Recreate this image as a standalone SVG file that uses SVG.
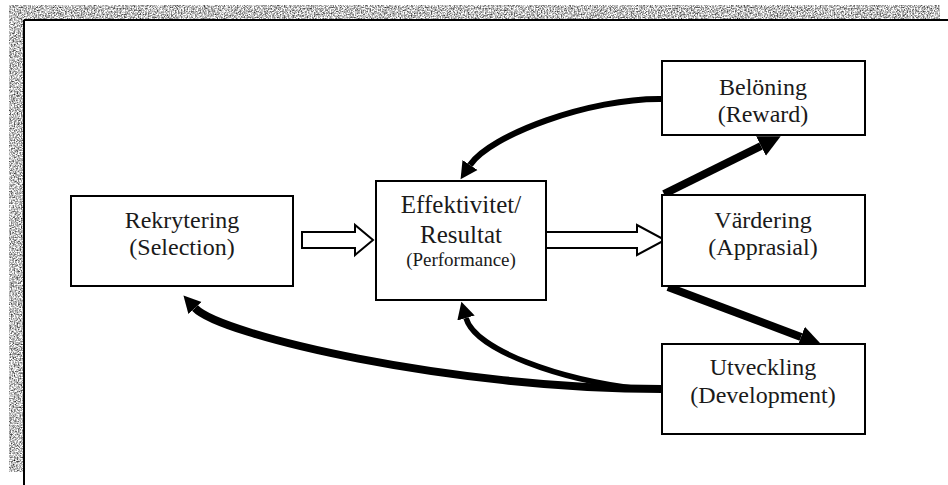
<svg xmlns="http://www.w3.org/2000/svg" width="948" height="485" viewBox="0 0 948 485">
<style>
.box{fill:#fff;stroke:#000;stroke-width:2}
.t{font-family:"Liberation Serif","Times New Roman",serif;font-size:24px;fill:#1a1a1a;text-anchor:middle}
.s{font-size:19px}
.hollow{fill:#fff;stroke:#000;stroke-width:2;stroke-linejoin:miter}
.thick{fill:none;stroke:#000;stroke-linecap:butt}
</style>
<defs>
<filter id="grain" x="0" y="0" width="1" height="1" color-interpolation-filters="sRGB">
<feTurbulence type="fractalNoise" baseFrequency="0.7" numOctaves="2" seed="4" result="n"/>
<feColorMatrix in="n" type="matrix" values="1.7 0 0 0 -0.1  1.7 0 0 0 -0.1  1.7 0 0 0 -0.1  0 0 0 0 1" result="g"/>
<feComposite in="g" in2="SourceGraphic" operator="in"/>
</filter>
<marker id="headS" markerUnits="userSpaceOnUse" markerWidth="20" markerHeight="20" viewBox="0 -10 20 20" refX="0" refY="0" orient="auto">
<path d="M0,-9 L17,0 L0,9 z" fill="#000"/>
</marker>
<marker id="headL" markerUnits="userSpaceOnUse" markerWidth="24" markerHeight="26" viewBox="0 -13 24 26" refX="0" refY="0" orient="auto">
<path d="M0,-11 L22,0 L0,11 z" fill="#000"/>
</marker>
</defs>

<g id="frame">
<rect x="9" y="5" width="931" height="15" fill="#aaa" filter="url(#grain)"/>
<rect x="9" y="5" width="15" height="467" fill="#aaa" filter="url(#grain)"/>
<line x1="24" y1="20" x2="948" y2="20" stroke="#000" stroke-width="2"/>
<line x1="24" y1="20" x2="24" y2="485" stroke="#000" stroke-width="2"/>
</g>

<g id="connectors">
<polygon class="hollow" points="302,232 355,232 355,225 373,240 355,255 355,248 302,248"/>
<polygon class="hollow" points="543,232 637,232 637,225 665,240 637,255 637,248 543,248"/>
<path class="thick" stroke-width="6" d="M662,99 C590,98 490,135 470,165" marker-end="url(#headS)"/>
<path class="thick" stroke-width="8" d="M664,194 L761,146" marker-end="url(#headL)"/>
<path class="thick" stroke-width="8" d="M668,287 L801,337" marker-end="url(#headL)"/>
<path class="thick" stroke-width="8" d="M662,389 C450,389 220,335 195,308" marker-end="url(#headS)"/>
<path class="thick" stroke-width="5.5" d="M640,389 C560,380 475,350 466,318" marker-end="url(#headS)"/>
</g>

<g id="rekrytering">
<rect class="box" x="71" y="196" width="222" height="90"/>
<text class="t" x="182" y="228">Rekrytering</text>
<text class="t" x="182" y="255">(Selection)</text>
</g>

<g id="effektivitet">
<rect class="box" x="376" y="181" width="170" height="119"/>
<text class="t" x="461" y="213" style="font-size:25px">Effektivitet/</text>
<text class="t" x="461" y="243" style="font-size:25px">Resultat</text>
<text class="t s" x="461" y="266">(Performance)</text>
</g>

<g id="beloning">
<rect class="box" x="662" y="61" width="203" height="74"/>
<text class="t" x="763" y="95">Belöning</text>
<text class="t" x="763" y="122">(Reward)</text>
</g>

<g id="vardering">
<rect class="box" x="662" y="195" width="203" height="91"/>
<text class="t" x="763" y="228">Värdering</text>
<text class="t" x="763" y="255">(Apprasial)</text>
</g>

<g id="utveckling">
<rect class="box" x="662" y="344" width="203" height="90"/>
<text class="t" x="763" y="375">Utveckling</text>
<text class="t" x="763" y="403">(Development)</text>
</g>
</svg>
